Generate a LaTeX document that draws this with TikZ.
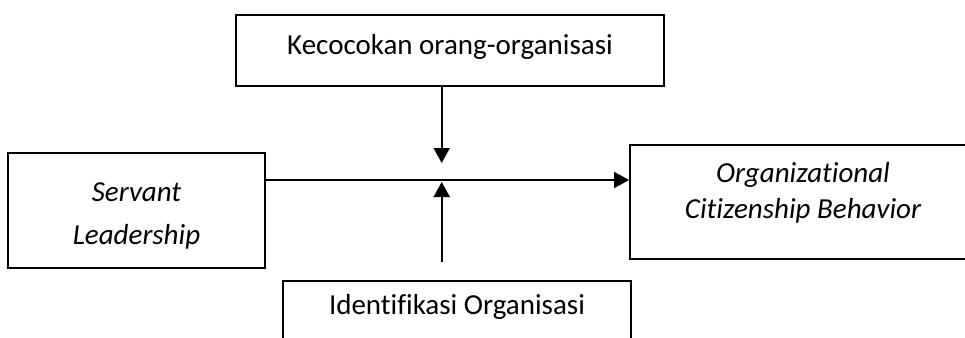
\documentclass[tikz,border=0pt]{standalone}
\usepackage{fontspec}
\setmainfont[Ligatures={NoCommon,NoRare,NoContextual}]{Carlito}
\usetikzlibrary{arrows.meta}
\newcommand{\nolig}{\kern0pt }
\begin{document}
\begin{tikzpicture}[x=1pt,y=-1pt,
  box/.style={draw=black,line width=1.8pt,rectangle,inner sep=0pt},
  txt/.style={inner sep=0pt,font=\fontsize{29}{34}\selectfont},
  itxt/.style={inner sep=0pt,font=\fontsize{29}{34}\selectfont\itshape},
  arr/.style={line width=1.8pt,-{Triangle[length=15pt,width=16pt]}}]
\useasboundingbox (0,0) rectangle (965,337);
\clip (0,0) rectangle (965,337);
\fill[white] (0,0) rectangle (965,337);
% boxes
\node[box,minimum width=428,minimum height=71] (top) at (450,50.5) {};
\node[txt] (toplabel) at (450,47) {Kecocokan orang-organisasi};
\node[box,minimum width=257,minimum height=115] (left) at (136.5,210.5) {};
\node[itxt] (sl1) at (136.5,192) {Servant};
\node[itxt] (sl2) at (136.5,237) {Leadership};
\node[box,minimum width=346,minimum height=114] (right) at (803,202) {};
\node[itxt] (ocb1) at (803,175) {Organizat\nolig ional};
\node[itxt] (ocb2) at (803,211) {Cit\nolig izenship Behavior};
\node[box,minimum width=348,minimum height=90,anchor=north] (bot) at (457,280) {};
\node[txt] (botlabel) at (457,307) {Identif\nolig ikasi Organisasi};
% connectors
\coordinate (h) at (441.7,180);
\coordinate (dtip) at (441.7,163);
\coordinate (ustart) at (441.7,262);
\coordinate (utip) at (441.7,182);
\draw[arr] (left.east |- h) -- (right.west |- h);
\draw[arr] (top.south -| h) -- (dtip);
\draw[arr] (ustart) -- (utip);
\end{tikzpicture}
\end{document}
